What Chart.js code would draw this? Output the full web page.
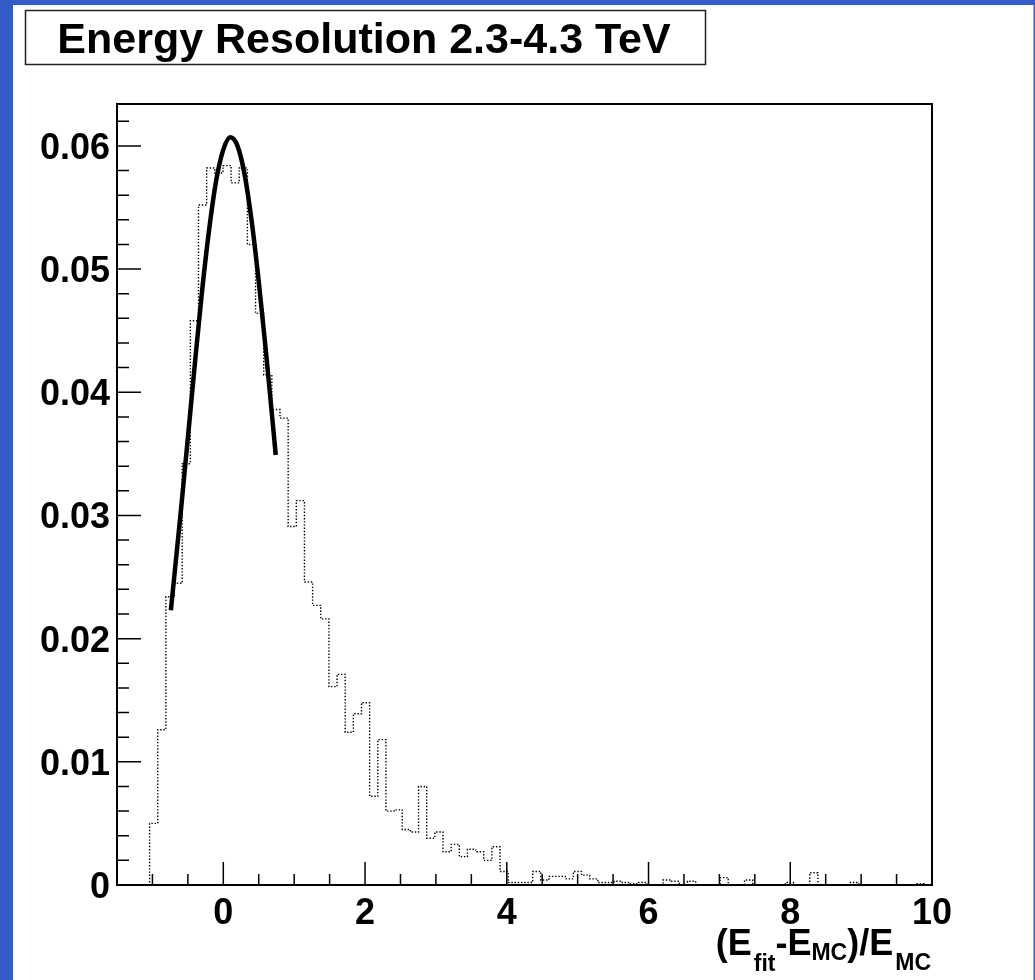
<!DOCTYPE html>
<html>
<head>
<meta charset="utf-8">
<title>Energy Resolution 2.3-4.3 TeV</title>
<script src="https://cdn.jsdelivr.net/npm/chart.js@4.4.1/dist/chart.umd.min.js"></script>
<style>
  html, body { margin: 0; padding: 0; background: #fff; overflow: hidden; }
  #wrap { position: relative; width: 1035px; height: 980px; }
</style>
</head>
<body>
<div id="wrap"><canvas id="chart" width="1035" height="980"></canvas></div>
<script>
const titleText = 'Energy Resolution 2.3-4.3 TeV';

// histogram: 100 bins from -1.5 to 10
const binStart = -1.5;
const binWidth = 0.115;
const binValues = [
  0, 0, 0, 0, 0.0050, 0.0126, 0.0234, 0.0245, 0.0342, 0.0458,
  0.0552, 0.0582, 0.0578, 0.0584, 0.0570, 0.0582, 0.0520, 0.0464, 0.0414, 0.0386,
  0.0379, 0.0291, 0.0312, 0.0246, 0.0227, 0.0216, 0.0161, 0.0171, 0.0124, 0.0139,
  0.0148, 0.0072, 0.0118, 0.0060, 0.0061, 0.0045, 0.0043, 0.0080, 0.0038, 0.0043,
  0.0027, 0.0033, 0.0023, 0.0029, 0.0027, 0.0020, 0.0031, 0.0011, 0.0002, 0.0002,
  0.0002, 0.0011, 0.0004, 0.0007, 0.0007, 0.0005, 0.0011, 0.0008, 0.0005, 0.0002,
  0.0002, 0.0003, 0.0002, 0.0001, 0.0002, 0, 0, 0.0004, 0.0003, 0,
  0.0003, 0, 0, 0, 0.0006, 0, 0, 0.0004, 0, 0,
  0, 0, 0.0002, 0, 0, 0.0010, 0, 0, 0, 0,
  0.0002, 0, 0, 0, 0, 0, 0, 0, 0.0001, 0
];

// fitted curve, points
const fitX = [-0.74, -0.6, -0.5, -0.4, -0.3, -0.2, -0.1, 0, 0.1, 0.2, 0.3, 0.4, 0.5, 0.6, 0.74];
const fitY = [0.0223, 0.0303, 0.0363, 0.0424, 0.0482, 0.0532, 0.0572, 0.0597, 0.0607, 0.0600, 0.0577, 0.0539, 0.0490, 0.0434, 0.0349];

const xTickValues = [0, 2, 4, 6, 8, 10];
const xTickLabels = ['0', '2', '4', '6', '8', '10'];
const yTickValues = [0, 0.01, 0.02, 0.03, 0.04, 0.05, 0.06];
const yTickLabels = ['0', '0.01', '0.02', '0.03', '0.04', '0.05', '0.06'];
const xMin = -1.5, xMax = 10;
const yMin = 0, yMax = 0.0634;

const FONT = '"Liberation Sans", Arial, Helvetica, sans-serif';
const BLUE = 'rgb(52,92,198)';

const histPoints = binValues.map((v, i) => ({ x: binStart + i * binWidth, y: v }));
histPoints.push({ x: binStart + binValues.length * binWidth, y: binValues[binValues.length - 1] });
const fitPoints = fitX.map((x, i) => ({ x: x, y: fitY[i] }));

const decor = {
  id: 'decor',
  beforeDraw(chart) {
    const ctx = chart.ctx;
    ctx.save();
    ctx.fillStyle = '#fff';
    ctx.fillRect(0, 0, chart.width, chart.height);
    ctx.fillStyle = BLUE;
    ctx.fillRect(0, 0, chart.width, 5);
    ctx.fillRect(0, 0, 13, chart.height);
    ctx.fillRect(chart.width - 1.5, 0, 1.5, chart.height);
    // title box
    ctx.strokeStyle = '#222';
    ctx.lineWidth = 1.5;
    ctx.strokeRect(25.5, 10.5, 680, 54);
    ctx.fillStyle = '#000';
    ctx.font = 'bold 43px ' + FONT;
    ctx.textAlign = 'center';
    ctx.textBaseline = 'alphabetic';
    ctx.fillText(titleText, 364, 53);
    ctx.restore();
  },
  afterDraw(chart) {
    const ctx = chart.ctx;
    const a = chart.chartArea;
    const xs = chart.scales.x, ys = chart.scales.y;
    ctx.save();
    ctx.strokeStyle = '#000';
    ctx.lineWidth = 1.5;
    ctx.beginPath();
    for (let i = 1; i * 0.002 <= yMax; i++) {
      const py = ys.getPixelForValue(i * 0.002);
      const len = i % 5 === 0 ? 24 : 12;
      ctx.moveTo(a.left, py);
      ctx.lineTo(a.left + len, py);
    }
    for (let i = -2; i * 0.5 < xMax; i++) {
      const px = xs.getPixelForValue(i * 0.5);
      const len = i % 4 === 0 ? 23 : 11;
      ctx.moveTo(px, a.bottom);
      ctx.lineTo(px, a.bottom - len);
    }
    ctx.stroke();
    ctx.lineWidth = 2;
    ctx.strokeRect(a.left, a.top, a.right - a.left, a.bottom - a.top);

    // x axis title (E_fit-E_MC)/E_MC
    const main = 'bold 36px ' + FONT;
    const sub = 'bold 23px ' + FONT;
    const parts = [
      ['(', main, 0, 0], ['E', main, 0, 2], ['fit', sub, 16, 0], ['-', main, 0, 0],
      ['E', main, 0, 0], ['MC', sub, 5, 0], [')', main, 0, 0], ['/', main, 0, 0],
      ['E', main, 0, 2], ['MC', sub, 15, 0]
    ];
    let total = 0;
    parts.forEach(p => { ctx.font = p[1]; total += ctx.measureText(p[0]).width + p[3]; });
    let x = 931 - total;
    const base = 955;
    ctx.fillStyle = '#000';
    ctx.textAlign = 'left';
    ctx.textBaseline = 'alphabetic';
    parts.forEach(p => {
      ctx.font = p[1];
      ctx.fillText(p[0], x, base + p[2]);
      x += ctx.measureText(p[0]).width + p[3];
    });
    ctx.restore();
  }
};

new Chart(document.getElementById('chart'), {
  type: 'line',
  data: {
    datasets: [
      {
        label: 'fit',
        data: fitPoints,
        borderColor: '#000',
        borderWidth: 4.5,
        pointRadius: 0,
        cubicInterpolationMode: 'monotone',
        fill: false,
        order: 0
      },
      {
        label: 'histogram',
        data: histPoints,
        borderColor: '#000',
        borderWidth: 1.4,
        borderDash: [1.4, 1.8],
        pointRadius: 0,
        stepped: true,
        fill: false,
        order: 1
      }
    ]
  },
  options: {
    responsive: false,
    animation: false,
    devicePixelRatio: 1,
    layout: { padding: { left: 0, top: 104, right: 103, bottom: 0 } },
    plugins: { legend: { display: false }, tooltip: { enabled: false }, title: { display: false } },
    scales: {
      x: {
        type: 'linear',
        min: xMin,
        max: xMax,
        grid: { display: false, drawTicks: false },
        border: { display: false },
        afterBuildTicks: s => { s.ticks = xTickValues.map(v => ({ value: v })); },
        afterFit: s => { s.height = 95; },
        ticks: {
          autoSkip: false,
          maxRotation: 0,
          padding: 7,
          color: '#000',
          font: { family: FONT, size: 36, weight: 'bold' },
          callback: v => xTickLabels[xTickValues.indexOf(v)]
        }
      },
      y: {
        type: 'linear',
        min: yMin,
        max: yMax,
        grid: { display: false, drawTicks: false },
        border: { display: false },
        afterBuildTicks: s => { s.ticks = yTickValues.map(v => ({ value: v })); },
        afterFit: s => { s.width = 117; },
        ticks: {
          padding: 7,
          labelOffset: 3,
          color: '#000',
          font: { family: FONT, size: 36, weight: 'bold' },
          callback: v => yTickLabels[yTickValues.indexOf(v)]
        }
      }
    }
  },
  plugins: [decor]
});
</script>
</body>
</html>
